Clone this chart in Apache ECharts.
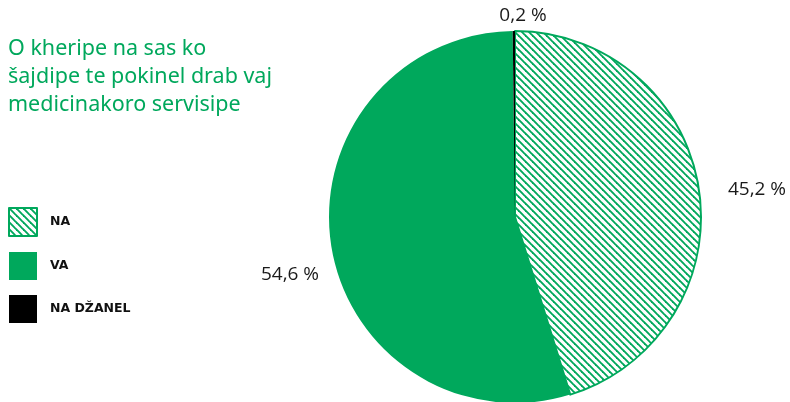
<!DOCTYPE html>
<html>
<head>
<meta charset="utf-8">
<script src="https://cdn.jsdelivr.net/npm/echarts@6/dist/echarts.min.js"></script>
<style>
  html, body { margin: 0; padding: 0; background: #fff; }
  #chart { width: 790px; height: 402px; }
</style>
</head>
<body>
<div id="chart"></div>
<script>
  // data
  const categories = ['NA', 'VA', 'NA DŽANEL']
  const values = [45.2, 54.6, 0.2]
  const titleLines = ['O kheripe na sas ko', 'šajdipe te pokinel drab vaj', 'medicinakoro servisipe']

  const green = '#00a85c'

  // diagonal hatch for the NA slice
  function hatch () {
    const s = 7
    const c = document.createElement('canvas')
    c.width = s
    c.height = s
    const ctx = c.getContext('2d')
    ctx.fillStyle = '#fff'
    ctx.fillRect(0, 0, s, s)
    ctx.strokeStyle = green
    ctx.lineWidth = 1.9
    for (let k = -1; k <= 1; k++) {
      ctx.beginPath()
      ctx.moveTo(-1 + k * s, -1)
      ctx.lineTo(s + 1 + k * s, s + 1)
      ctx.stroke()
    }
    return c
  }

  const sliceStyles = [
    { color: { image: hatch(), repeat: 'repeat' }, borderColor: green, borderWidth: 2 },
    { color: green },
    { color: '#000' }
  ]
  // where each percentage label sits (centre of text)
  const labelPos = [[757, 190], [290, 275], [523, 16]]

  const chart = echarts.init(document.getElementById('chart'))
  chart.setOption({
    animation: false,
    title: {
      text: titleLines.join('\n'),
      left: 3,
      top: 30,
      textStyle: {
        fontFamily: 'Noto Sans',
        fontWeight: 'normal',
        fontSize: 21.5,
        lineHeight: 28,
        color: green
      }
    },
    legend: {
      orient: 'vertical',
      left: 3,
      top: 202,
      itemWidth: 28,
      itemHeight: 28,
      itemGap: 15,
      icon: 'rect',
      textStyle: {
        fontFamily: 'DejaVu Sans',
        fontWeight: 'bold',
        fontSize: 12.5,
        color: '#111',
        padding: [0, 0, 0, 8]
      },
      data: categories
    },
    series: [{
      type: 'pie',
      center: [515, 217],
      radius: 186,
      startAngle: 90,
      clockwise: true,
      label: {
        show: true,
        position: 'outside',
        fontFamily: 'Open Sans',
        fontSize: 19,
        color: '#1a1a1a',
        overflow: 'none',
        width: 120,
        formatter: p => String(p.value).replace('.', ',') + ' %'
      },
      labelLine: { show: false },
      labelLayout: p => ({
        x: labelPos[p.dataIndex][0],
        y: labelPos[p.dataIndex][1],
        align: 'center',
        verticalAlign: 'middle'
      }),
      emphasis: { disabled: true },
      data: categories.map((name, i) => ({
        name: name,
        value: values[i],
        itemStyle: sliceStyles[i]
      }))
    }]
  })
</script>
</body>
</html>
